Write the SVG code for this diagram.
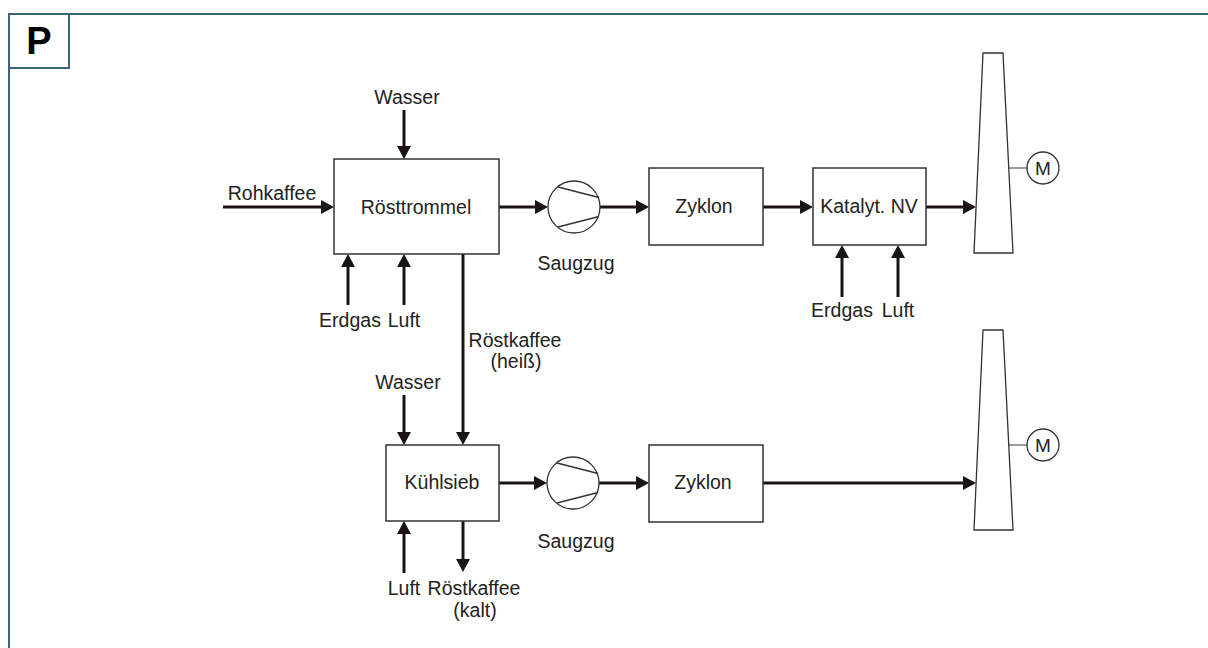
<svg xmlns="http://www.w3.org/2000/svg" width="1208" height="648" viewBox="0 0 1208 648">
<defs>
<style>
text{font-family:"Liberation Sans",Arial,sans-serif;font-size:19.5px;fill:#222;text-anchor:middle}
.box{fill:#fff;stroke:#333;stroke-width:1.5}
.flow{stroke:#1a1414;stroke-width:3;fill:none}
.thin{stroke:#333;stroke-width:1.3;fill:#fff}
.frame{stroke:#3c6478;stroke-width:2;fill:none}
</style>
<marker id="ah" markerUnits="userSpaceOnUse" markerWidth="14" markerHeight="14" refX="3" refY="7" orient="auto" viewBox="0 0 13 14">
<path d="M0,0 L13,7 L0,14 z" fill="#1a1414"/>
</marker>
<g id="fanshape">
<circle r="26" class="thin"/>
<path d="M-16,-20 L25,-9.5 M-16,20 L25,9.5" stroke="#333" stroke-width="1.3" fill="none"/>
</g>
</defs>
<rect width="1208" height="648" fill="#fff"/>
<g id="frame">
<path class="frame" d="M9,660 L9,14 L1220,14"/>
<path class="frame" d="M9,68 L69,68 L69,14"/>
<text x="39" y="54" style="font-size:38px;font-weight:bold;fill:#000">P</text>
</g>
<g id="connectors">
<line class="flow" x1="404" y1="110" x2="404" y2="149" marker-end="url(#ah)"/>
<line class="flow" x1="223" y1="207" x2="324" y2="207" marker-end="url(#ah)"/>
<line class="flow" x1="348" y1="305" x2="348" y2="264" marker-end="url(#ah)"/>
<line class="flow" x1="404" y1="305" x2="404" y2="264" marker-end="url(#ah)"/>
<line class="flow" x1="499" y1="207" x2="538" y2="207" marker-end="url(#ah)"/>
<line class="flow" x1="600" y1="207" x2="639" y2="207" marker-end="url(#ah)"/>
<line class="flow" x1="763" y1="207" x2="803" y2="207" marker-end="url(#ah)"/>
<line class="flow" x1="926" y1="207" x2="966" y2="207" marker-end="url(#ah)"/>
<line class="flow" x1="842" y1="297" x2="842" y2="255" marker-end="url(#ah)"/>
<line class="flow" x1="898" y1="297" x2="898" y2="255" marker-end="url(#ah)"/>
<line class="flow" x1="463" y1="254" x2="463" y2="435" marker-end="url(#ah)"/>
<line class="flow" x1="404" y1="395" x2="404" y2="435" marker-end="url(#ah)"/>
<line class="flow" x1="404" y1="573" x2="404" y2="531" marker-end="url(#ah)"/>
<line class="flow" x1="463" y1="521" x2="463" y2="562" marker-end="url(#ah)"/>
<line class="flow" x1="499" y1="483" x2="537" y2="483" marker-end="url(#ah)"/>
<line class="flow" x1="599" y1="483" x2="639" y2="483" marker-end="url(#ah)"/>
<line class="flow" x1="763" y1="483" x2="966" y2="483" marker-end="url(#ah)"/>
<line x1="1008.5" y1="168" x2="1027" y2="168" stroke="#666" stroke-width="1.3"/>
<line x1="1008.5" y1="445" x2="1027" y2="445" stroke="#666" stroke-width="1.3"/>
</g>
<g id="roesttrommel">
<rect class="box" x="334" y="159" width="165" height="95"/>
<text x="416" y="214">Rösttrommel</text>
</g>
<g id="fan1">
<use href="#fanshape" x="574" y="207"/>
<text x="576" y="270">Saugzug</text>
</g>
<g id="zyklon1">
<rect class="box" x="649" y="168" width="114" height="77"/>
<text x="704" y="213">Zyklon</text>
</g>
<g id="katalyt">
<rect class="box" x="813" y="168" width="113" height="77"/>
<text x="869" y="213">Katalyt. NV</text>
</g>
<g id="stack1">
<polygon class="thin" points="983,53 1003,53 1013,253 974,253"/>
</g>
<g id="motor1">
<circle class="thin" cx="1043" cy="168" r="16"/>
<text x="1043" y="175" style="font-size:19px">M</text>
</g>
<g id="kuehlsieb">
<rect class="box" x="386" y="445" width="113" height="76"/>
<text x="442" y="489">Kühlsieb</text>
</g>
<g id="fan2">
<use href="#fanshape" x="573" y="483"/>
<text x="576" y="548">Saugzug</text>
</g>
<g id="zyklon2">
<rect class="box" x="649" y="445" width="114" height="77"/>
<text x="703" y="489">Zyklon</text>
</g>
<g id="stack2">
<polygon class="thin" points="983,330 1003,330 1013,530 974,530"/>
</g>
<g id="motor2">
<circle class="thin" cx="1043" cy="445" r="16"/>
<text x="1043" y="452" style="font-size:19px">M</text>
</g>
<g id="labels">
<text x="407" y="104">Wasser</text>
<text x="272" y="200">Rohkaffee</text>
<text x="350" y="327">Erdgas</text>
<text x="404" y="327">Luft</text>
<text x="842" y="317">Erdgas</text>
<text x="898" y="317">Luft</text>
<text x="515" y="347">Röstkaffee</text>
<text x="516" y="368">(heiß)</text>
<text x="408" y="389">Wasser</text>
<text x="404" y="595">Luft</text>
<text x="474" y="595">Röstkaffee</text>
<text x="475" y="617">(kalt)</text>
</g>
</svg>
